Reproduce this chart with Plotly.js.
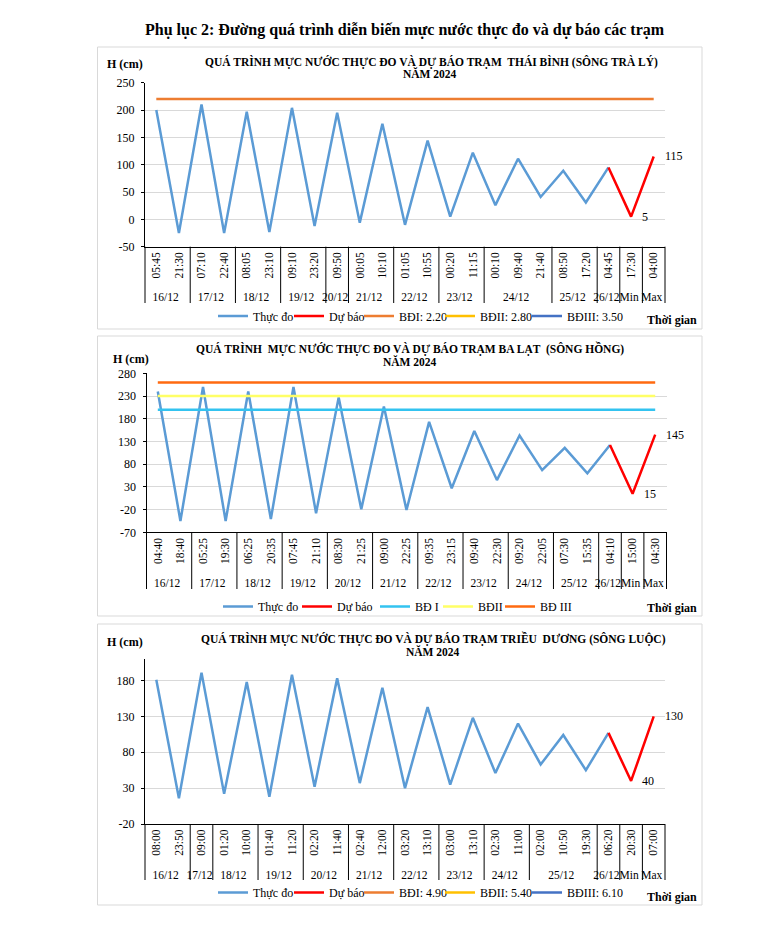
<!DOCTYPE html>
<html><head><meta charset="utf-8">
<script src="https://cdn.plot.ly/plotly-3.0.1.min.js"></script>
<style>html,body{margin:0;padding:0;background:#fff}</style>
</head><body><div id="chart" style="width:768px;height:926px"></div>
<script>
// ---------- Chart 1: Thái Bình (sông Trà Lý) ----------
const tbDates = ['16/12','16/12','17/12','17/12','18/12','18/12','19/12','19/12','20/12','21/12','21/12','22/12','22/12','23/12','23/12','24/12','24/12','24/12','25/12','25/12','26/12','Min','Max'];
const tbTimes = ['05:45','21:30','07:10','22:40','08:05','23:10','09:10','23:20','09:50','00:05','10:10','01:05','10:55','00:20','11:15','00:10','09:40','21:40','08:50','17:20','04:45','17:30','04:00'];
const tbObserved = [200,-25,210,-25,197,-23,204,-12,195,-6,175,-10,144,5,122,26,111,41,89,31,95];
const tbForecast = [95,5,115];
const tbLevelNames = ['BĐI: 2.20','BĐII: 2.80','BĐIII: 3.50'];
const tbLevelValues = [220,280,350];
const tbYTicks = [-50,0,50,100,150,200,250];

// ---------- Chart 2: Ba Lạt (sông Hồng) ----------
const blDates = ['16/12','16/12','17/12','17/12','18/12','18/12','19/12','19/12','20/12','20/12','21/12','21/12','22/12','22/12','23/12','23/12','24/12','24/12','25/12','25/12','26/12','Min','Max'];
const blTimes = ['04:40','18:40','05:25','19:30','06:25','20:35','07:45','21:10','08:30','21:25','09:00','22:25','09:35','23:15','09:40','22:30','09:20','22:05','07:30','15:35','04:10','15:00','04:30'];
const blObserved = [240,-45,250,-45,240,-41,250,-28,227,-19,207,-21,173,27,153,45,143,67,116,60,122];
const blForecast = [122,15,145];
const blLevelNames = ['BĐ I','BĐII','BĐ III'];
const blLevelValues = [200,230,260];
const blYTicks = [-70,-20,30,80,130,180,230,280];

// ---------- Chart 3: Triều Dương (sông Luộc) ----------
const tdDates = ['16/12','16/12','17/12','18/12','18/12','19/12','19/12','20/12','20/12','21/12','21/12','22/12','22/12','23/12','23/12','24/12','24/12','25/12','25/12','25/12','26/12','Min','Max'];
const tdTimes = ['08:00','23:50','09:00','01:20','10:00','01:40','11:20','02:20','11:40','02:40','12:00','03:20','13:10','03:00','13:10','02:30','11:00','02:00','10:50','19:30','06:20','20:30','07:00'];
const tdObserved = [181,16,191,22,178,18,188,32,183,37,170,30,143,35,128,51,120,63,104,55,107];
const tdForecast = [107,40,130];
const tdLevelNames = ['BĐI: 4.90','BĐII: 5.40','BĐIII: 6.10'];
const tdLevelValues = [490,540,610];
const tdYTicks = [-20,30,80,130,180];

// ---------- helpers ----------
const W = 768, H = 926;
const FONT = 'Liberation Serif, Times New Roman, serif';
const px = v => v / W;
const py = v => 1 - v / H;

function uniqueTimes(times) {
  const seen = {};
  return times.map(t => { let k = t; while (seen[k]) k += '\u200B'; seen[k] = 1; return k; });
}

const traces = [];
const annotations = [];
const shapes = [];
const charts = [
  {dates: tbDates, times: tbTimes, obs: tbObserved, fc: tbForecast, lvN: tbLevelNames, lvV: tbLevelValues,
   lvC: ['#ED7D31','#FFC000','#4472C4'], ax: '', legend: 'legend', xdom: [145, 665], axisY: 246.7, labelBottom: 303,
   lw: [31, 25, 36, 42, null]},
  {dates: blDates, times: blTimes, obs: blObserved, fc: blForecast, lvN: blLevelNames, lvV: blLevelValues,
   lvC: ['#33C3F0','#FFFF66','#FF6A10'], ax: '2', legend: 'legend2', xdom: [146.5, 666.5], axisY: 532.3, labelBottom: 589,
   lw: [34, 33, 18, 17, null]},
  {dates: tdDates, times: tdTimes, obs: tdObserved, fc: tdForecast, lvN: tdLevelNames, lvV: tdLevelValues,
   lvC: ['#ED7D31','#FFC000','#4472C4'], ax: '3', legend: 'legend3', xdom: [145, 665], axisY: 824, labelBottom: 880,
   lw: [31, 25, 36, 42, null]}
];

charts.forEach(c => {
  const times = uniqueTimes(c.times);
  const n = c.obs.length;
  const N = c.dates.length;
  const xa = 'x' + c.ax, ya = 'y' + c.ax;
  const lwOpt = i => (c.lw[i] ? {legendwidth: c.lw[i]} : {});
  traces.push(Object.assign({type: 'scatter', mode: 'lines', name: 'Thực đo', x: [c.dates.slice(0, n), times.slice(0, n)], y: c.obs,
    xaxis: xa, yaxis: ya, legend: c.legend, line: {color: '#5B9BD5', width: 2.5}, hoverinfo: 'skip'}, lwOpt(0)));
  traces.push(Object.assign({type: 'scatter', mode: 'lines', name: 'Dự báo', x: [c.dates.slice(n - 1), times.slice(n - 1)], y: c.fc,
    xaxis: xa, yaxis: ya, legend: c.legend, line: {color: '#FF0000', width: 2.5}, hoverinfo: 'skip'}, lwOpt(1)));
  c.lvN.forEach((nm, i) => {
    traces.push(Object.assign({type: 'scatter', mode: 'lines', name: nm, x: [c.dates, times], y: c.dates.map(() => c.lvV[i]),
      xaxis: xa, yaxis: ya, legend: c.legend, line: {color: c.lvC[i], width: 2.5}, hoverinfo: 'skip'}, lwOpt(2 + i)));
  });
  // data labels for Min / Max forecast values
  [1, 2].forEach(k => {
    annotations.push({xref: xa, yref: ya, x: n - 1 + k, y: c.fc[k], text: String(c.fc[k]), showarrow: false,
      xanchor: 'left', yanchor: 'middle', xshift: 9, font: {family: FONT, size: 12, color: '#000'}});
  });
  // group dividers on the two-level category axis (boundaries between date groups)
  const bounds = [0];
  for (let i = 1; i < N; i++) if (c.dates[i] !== c.dates[i - 1]) bounds.push(i);
  bounds.push(N);
  bounds.forEach(b => {
    const xp = c.xdom[0] + (b / N) * (c.xdom[1] - c.xdom[0]);
    shapes.push({type: 'line', xref: 'paper', yref: 'paper', x0: px(xp), x1: px(xp), y0: py(c.axisY), y1: py(c.labelBottom),
      line: {color: '#000', width: 1}});
  });
});

function xAxis(dom, anchor, N) {
  return {type: 'multicategory', domain: dom, anchor: anchor, range: [-0.5, N - 0.5], showline: true, linecolor: '#000', linewidth: 1,
    tickangle: -90, showdividers: false, showgrid: false, ticks: '',
    tickfont: {family: FONT, size: 11.5, color: '#000'}, fixedrange: true};
}
function yAxis(dom, anchor, range, ticks) {
  return {domain: dom, anchor: anchor, range: range, tickmode: 'array', tickvals: ticks, ticktext: ticks.map(String),
    showgrid: true, gridcolor: '#D9D9D9',
    gridwidth: 1, showline: true, linecolor: '#000', linewidth: 1, ticks: 'outside', ticklen: 3, tickcolor: '#000',
    zeroline: false, tickfont: {family: FONT, size: 12, color: '#000'}, fixedrange: true, ticklabelstandoff: 4};
}

const txt = (x, y, text, size, bold, anchor) => ({xref: 'paper', yref: 'paper', x: px(x), y: py(y), text: bold ? '<b>' + text + '</b>' : text,
  showarrow: false, xanchor: anchor || 'center', yanchor: 'middle', font: {family: FONT, size: size, color: '#000'}});

annotations.push(
  txt(405, 30, 'Phụ lục 2: Đường quá trình diễn biến mực nước thực đo và dự báo các trạm', 16, true),
  txt(125, 64, 'H (cm)', 12, true),
  txt(431, 61.5, 'QUÁ TRÌNH MỰC NƯỚC THỰC ĐO VÀ DỰ BÁO TRẠM  THÁI BÌNH (SÔNG TRÀ LÝ)', 11.5, true),
  txt(430, 73.5, 'NĂM 2024', 11.5, true),
  txt(672, 320, 'Thời gian', 12, true),
  txt(131, 358.5, 'H (cm)', 12, true),
  txt(410, 348, 'QUÁ TRÌNH  MỰC NƯỚC THỰC ĐO VÀ DỰ BÁO TRẠM BA LẠT  (SÔNG HỒNG)', 11.5, true),
  txt(410, 361.5, 'NĂM 2024', 11.5, true),
  txt(672, 607.5, 'Thời gian', 12, true),
  txt(125, 641.5, 'H (cm)', 12, true),
  txt(433, 638, 'QUÁ TRÌNH MỰC NƯỚC THỰC ĐO VÀ DỰ BÁO TRẠM TRIỀU  DƯƠNG (SÔNG LUỘC)', 11.5, true),
  txt(433, 651, 'NĂM 2024', 11.5, true),
  txt(672, 896.5, 'Thời gian', 12, true)
);

const box = (top, bottom) => ({type: 'rect', xref: 'paper', yref: 'paper', x0: px(97.5), x1: px(702), y0: py(bottom), y1: py(top),
  line: {color: '#D9D9D9', width: 1}, fillcolor: 'rgba(0,0,0,0)', layer: 'below'});
shapes.push(box(47, 329), box(336, 616), box(624, 905));

const legendBase = (x, y) => ({orientation: 'h', x: px(x), y: py(y), xanchor: 'left', yanchor: 'middle',
  font: {family: FONT, size: 12, color: '#000'}, bgcolor: 'rgba(0,0,0,0)', itemwidth: 30, traceorder: 'normal'});

const layout = {
  width: W, height: H, margin: {l: 0, r: 0, t: 0, b: 0}, paper_bgcolor: '#fff', plot_bgcolor: 'rgba(0,0,0,0)',
  showlegend: true, font: {family: FONT, color: '#000'},
  xaxis: xAxis([px(145), px(665)], 'y', tbDates.length),
  yaxis: yAxis([py(246.7), py(82.7)], 'x', [-50, 250], tbYTicks),
  xaxis2: xAxis([px(146.5), px(666.5)], 'y2', blDates.length),
  yaxis2: yAxis([py(532.3), py(373.3)], 'x2', [-70, 280], blYTicks),
  xaxis3: xAxis([px(145), px(665)], 'y3', tdDates.length),
  yaxis3: yAxis([py(824), py(659)], 'x3', [-20, 210], tdYTicks),
  legend: legendBase(213, 316),
  legend2: legendBase(218, 606.5),
  legend3: legendBase(213, 892.5),
  annotations: annotations,
  shapes: shapes
};

Plotly.newPlot('chart', traces, layout, {displayModeBar: false, staticPlot: true});
</script>
</body></html>
